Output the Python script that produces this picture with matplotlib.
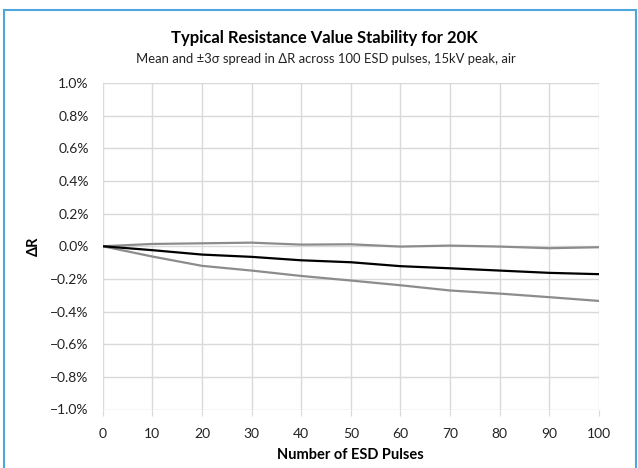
import matplotlib
matplotlib.use("Agg")
import matplotlib.pyplot as plt
from matplotlib.patches import Rectangle
from matplotlib.ticker import PercentFormatter

# datos (delta R en %)
pulsos = [0, 10, 20, 30, 40, 50, 60, 70, 80, 90, 100]
media = [0.0, -0.024, -0.051, -0.065, -0.086, -0.098, -0.122, -0.135, -0.149, -0.163, -0.171]
superior = [0.0, 0.014, 0.018, 0.022, 0.010, 0.012, -0.002, 0.004, -0.002, -0.012, -0.006]
inferior = [0.0, -0.063, -0.120, -0.149, -0.182, -0.210, -0.239, -0.271, -0.290, -0.312, -0.335]

plt.rcParams['font.family'] = ['Lato', 'DejaVu Sans']

fig = plt.figure(figsize=(6.38, 4.68), dpi=100)
W, H = 638, 468
ax = fig.add_axes([102.7 / W, 1 - 409.5 / H, (599 - 102.7) / W, (409.5 - 83) / H])

# marco azul del area del grafico (recortado abajo)
fig.patches.append(Rectangle((4 / W, -0.05), (636 - 4) / W, 1 - 10 / H + 0.05, transform=fig.transFigure,
                             fill=False, edgecolor='#4ea6dc', linewidth=1.5))

ax.plot(pulsos, superior, color='#8c8c8c', linewidth=1.6)
ax.plot(pulsos, inferior, color='#8c8c8c', linewidth=1.6)
ax.plot(pulsos, media, color='black', linewidth=1.6)

ax.set_xlim(0, 100)
ax.set_ylim(-1.0, 1.0)
ax.set_xticks(range(0, 101, 10))
ax.set_yticks([i / 10 for i in range(-10, 11, 2)])
ax.yaxis.set_major_formatter(PercentFormatter(decimals=1))
ax.grid(True, color='#d9d9d9', linewidth=1)
ax.set_axisbelow(True)
for s in ax.spines.values():
    s.set_visible(False)
ax.tick_params(axis='x', length=4, color='#d9d9d9', labelsize=10, pad=9, labelcolor='#222222')
ax.tick_params(axis='y', length=0, labelsize=10, pad=10, labelcolor='#222222')

ax.set_xlabel("Number of ESD Pulses", fontsize=10.5, fontweight='bold', labelpad=6)
ax.set_ylabel("ΔR", fontsize=10.5, fontweight='bold')
ax.yaxis.set_label_coords(-0.125, 0.5)

fig.text(324 / W, 1 - 38 / H, "Typical Resistance Value Stability for 20K", ha='center', va='center',
         fontsize=12, fontweight='bold')
fig.text(326 / W, 1 - 59 / H, "Mean and ±3σ spread in ΔR across 100 ESD pulses, 15kV peak, air",
         ha='center', va='center', fontsize=9.4, color='#222222')

fig.savefig("out.png", dpi=100)
